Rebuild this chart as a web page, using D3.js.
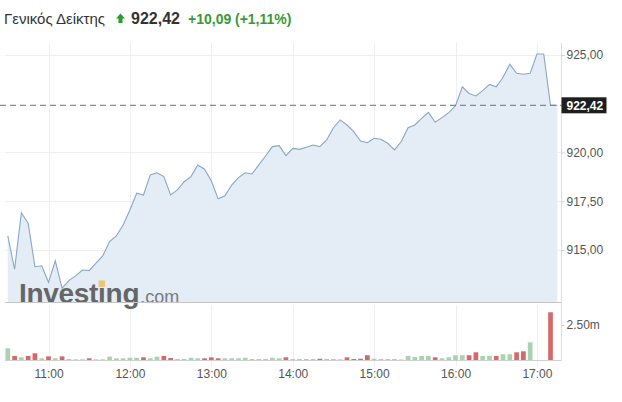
<!DOCTYPE html>
<html><head><meta charset="utf-8">
<script src="https://cdn.jsdelivr.net/npm/d3@7"></script>
<style>
body{margin:0;background:#fff;}
svg{display:block;font-family:"Liberation Sans",Arial,sans-serif;}
</style></head><body>
<svg id="chart" width="622" height="402"></svg>
<script>
// ---------- data ----------
const titleName = "Γενικός Δείκτης";
const lastValueText = "922,42";
const changeAbsText = "+10,09";
const changePctText = "(+1,11%)";
const sessionStart = "10:30";
const sessionEnd = "17:15";
const stepMinutes = 5;
const prevClose = 912.33;
const lastPrice = 922.42;
const prices = [
  915.72, 914.01, 916.91, 916.37, 914.14, 914.19, 913.34, 914.44, 913.04, 913.43,
  913.67, 913.97, 913.94, 914.32, 914.69, 915.43, 915.72, 916.28, 917.05, 917.91,
  917.82, 918.85, 918.96, 918.76, 917.82, 918.08, 918.50, 918.76, 919.36, 919.14,
  918.55, 917.62, 917.78, 918.33, 918.71, 918.96, 918.90, 919.36, 919.82, 920.30,
  920.35, 919.84, 920.21, 920.16, 920.27, 920.38, 920.30, 920.64, 921.27, 921.67,
  921.41, 921.07, 920.59, 920.50, 920.73, 920.68, 920.47, 920.13, 920.56, 921.27,
  921.41, 921.75, 922.06, 921.55, 921.79, 922.04, 922.40, 923.37, 923.03, 922.90,
  923.17, 923.49, 923.37, 923.86, 924.52, 924.06, 924.01, 924.06, 925.05, 925.05,
  922.42, 922.42
];
const volumes = [ // millions
  0.84, 0.29, 0.19, 0.29, 0.48, 0.12, 0.26, 0.12, 0.26, 0.07,
  0.05, 0.05, 0.12, 0.05, 0.05, 0.24, 0.12, 0.12, 0.16, 0.16,
  0.19, 0.12, 0.24, 0.29, 0.14, 0.07, 0.07, 0.16, 0.12, 0.12,
  0.19, 0.12, 0.12, 0.12, 0.12, 0.16, 0.07, 0.07, 0.07, 0.16,
  0.12, 0.19, 0.07, 0.07, 0.07, 0.07, 0.09, 0.07, 0.07, 0.05,
  0.19, 0.07, 0.09, 0.34, 0.09, 0.07, 0.07, 0.07, 0.04, 0.29,
  0.21, 0.29, 0.29, 0.19, 0.12, 0.19, 0.34, 0.34, 0.34, 0.55,
  0.29, 0.29, 0.29, 0.41, 0.41, 0.55, 0.62, 1.26, 0, 0,
  3.41, 0
];
const volumeDir = [
  "u","d","u","d","d","u","d","u","d","u",
  "u","u","d","u","u","u","u","u","u","u",
  "d","u","u","d","d","u","u","u","u","d",
  "d","d","u","u","u","u","u","u","u","u",
  "u","d","u","u","u","u","d","u","u","u",
  "d","d","d","d","u","u","u","u","u","u",
  "u","u","u","d","u","u","u","u","d","d",
  "u","u","d","u","u","d","d","u","u","u",
  "d","d"
];
const priceTicks = [915, 917.5, 920, 925];
const volumeTicks = [2.5];
const timeTicks = ["11:00", "12:00", "13:00", "14:00", "15:00", "16:00", "17:00"];

// ---------- setup ----------
const svg = d3.select("#chart");
const parseT = d3.timeParse("%Y-%m-%d %H:%M");
const T = s => parseT("2020-01-06 " + s);
const times = d3.timeMinute.every(stepMinutes).range(T(sessionStart), d3.timeMinute.offset(T(sessionEnd), 1)).slice(0, prices.length);
const data = prices.map((p, i) => ({t: times[i], p, v: volumes[i], dir: volumeDir[i]}));

const locale = d3.formatLocale({decimal: ",", thousands: ".", grouping: [3], currency: ["", "€"]});
const fmt2 = locale.format(".2f");

const plotL = 5, plotR = 561.5, plotTop = 43, plotBot = 302;
const volTop = 305, volBase = 360;

const x = d3.scaleTime().domain([T(sessionStart), T(sessionEnd)]).range([7.8, 557.3]);
const y = d3.scaleLinear().domain([prevClose, 925]).range([plotBot, 55]);
const yv = d3.scaleLinear().domain([0, 2.5]).range([volBase, 325]);

// ---------- title ----------
const title = svg.append("g");
title.append("text").attr("x", 4).attr("y", 24).attr("font-size", 15).attr("fill", "#333").text(titleName);
title.append("path").attr("d", "M120.5,13.5 L125,18.5 L122.5,18.5 L122.5,23 L118.5,23 L118.5,18.5 L116,18.5 Z").attr("fill", "#2e9a2e");
title.append("text").attr("x", 131).attr("y", 24).attr("font-size", 16).attr("font-weight", "bold").attr("fill", "#333").text(lastValueText);
title.append("text").attr("x", 188).attr("y", 24).attr("font-size", 14).attr("font-weight", "bold").attr("fill", "#3a9a32").text(changeAbsText);
title.append("text").attr("x", 235).attr("y", 24).attr("font-size", 14).attr("font-weight", "bold").attr("fill", "#3a9a32").text(changePctText);

// ---------- grid ----------
const grid = svg.append("g");
grid.selectAll("line.hg").data(priceTicks).join("line")
  .attr("x1", plotL).attr("x2", plotR).attr("y1", d => Math.round(y(d)) + 0.5).attr("y2", d => Math.round(y(d)) + 0.5)
  .attr("stroke", "#eeeeee");
grid.selectAll("line.vg").data(timeTicks).join("line")
  .attr("x1", d => Math.round(x(T(d))) + 0.5).attr("x2", d => Math.round(x(T(d))) + 0.5)
  .attr("y1", plotTop).attr("y2", plotBot).attr("stroke", "#eeeeee");
grid.selectAll("line.vg2").data(timeTicks).join("line")
  .attr("x1", d => Math.round(x(T(d))) + 0.5).attr("x2", d => Math.round(x(T(d))) + 0.5)
  .attr("y1", volTop).attr("y2", volBase + 6).attr("stroke", "#eeeeee");

// ---------- area + line ----------
const area = d3.area().x(d => x(d.t)).y0(plotBot).y1(d => y(d.p));
const line = d3.line().x(d => x(d.t)).y(d => y(d.p));
svg.append("path").datum(data).attr("d", area).attr("fill", "#e4ecf5");
svg.append("path").datum(data).attr("d", line).attr("fill", "none").attr("stroke", "#86a8c6").attr("stroke-width", 1.1);

// ---------- logo ----------
const logo = svg.append("g").attr("opacity", 0.92);
const logoText = logo.append("text").attr("x", 19).attr("y", 303).attr("font-size", 28).attr("font-weight", "bold")
  .attr("letter-spacing", -0.3).attr("fill", "#5b5b5b").text("Investing");
const lw = logoText.node().getComputedTextLength();
logo.append("text").attr("x", 19 + lw + 1).attr("y", 303).attr("font-size", 18).attr("fill", "#727272").text(".com");
try {
  const ip = logoText.node().getStartPositionOfChar(6);
  const iw = logoText.node().getSubStringLength(6, 1);
  logo.append("rect").attr("x", ip.x + iw / 2 - 3.2).attr("y", 280.5).attr("width", 6.4).attr("height", 6.4).attr("fill", "#f1c26a");
} catch (e) {}

// ---------- frame lines ----------
svg.append("line").attr("x1", plotL).attr("x2", plotR).attr("y1", plotBot + 0.5).attr("y2", plotBot + 0.5).attr("stroke", "#c4c4c4");
svg.append("line").attr("x1", plotR).attr("x2", plotR).attr("y1", plotTop).attr("y2", plotBot).attr("stroke", "#dddddd");
svg.append("line").attr("x1", plotR).attr("x2", plotR).attr("y1", plotBot + 1).attr("y2", volBase).attr("stroke", "#dddddd");
svg.append("line").attr("x1", plotL).attr("x2", plotR).attr("y1", volBase + 0.5).attr("y2", volBase + 0.5).attr("stroke", "#d0d0d0");

// ---------- last price dashed line ----------
svg.append("line").attr("x1", 0).attr("x2", plotR).attr("y1", y(lastPrice)).attr("y2", y(lastPrice))
  .attr("stroke", "#6e6e6e").attr("stroke-dasharray", "6,4");

// ---------- right price axis ----------
const yAxis = d3.axisRight(y).tickValues(priceTicks).tickSize(3).tickPadding(2).tickFormat(fmt2);
const ya = svg.append("g").attr("transform", `translate(${plotR},0)`).call(yAxis);
ya.select(".domain").remove();
ya.selectAll("line").attr("stroke", "#cccccc");
ya.selectAll("text").attr("font-size", 12).attr("fill", "#555").attr("font-family", "Liberation Sans, Arial, sans-serif");

// last price label
const lp = svg.append("g").attr("transform", `translate(${plotR},${y(lastPrice)})`);
lp.append("rect").attr("x", 0).attr("y", -8).attr("width", 45).attr("height", 16).attr("fill", "#1e1e1e");
lp.append("text").attr("x", 5).attr("y", 4.5).attr("font-size", 12).attr("font-weight", "bold").attr("fill", "#fff").text(fmt2(lastPrice));

// ---------- volume ----------
const bw = 4.7;
svg.append("g").selectAll("rect").data(data.filter(d => d.v > 0)).join("rect")
  .attr("x", d => x(d.t) - bw / 2).attr("width", bw)
  .attr("y", d => yv(d.v)).attr("height", d => volBase - yv(d.v))
  .attr("fill", d => d.dir === "u" ? "#a6d4ae" : "#d86767");

const vAxis = d3.axisRight(yv).tickValues(volumeTicks).tickSize(3).tickPadding(2).tickFormat(d => d3.format(".2f")(d) + "m");
const va = svg.append("g").attr("transform", `translate(${plotR},0)`).call(vAxis);
va.select(".domain").remove();
va.selectAll("line").attr("stroke", "#cccccc");
va.selectAll("text").attr("font-size", 12).attr("fill", "#555").attr("font-family", "Liberation Sans, Arial, sans-serif");

// ---------- time axis ----------
const xAxis = d3.axisBottom(x).tickValues(timeTicks.map(T)).tickSize(0).tickPadding(9).tickFormat(d3.timeFormat("%H:%M"));
const xa = svg.append("g").attr("transform", `translate(0,${volBase})`).call(xAxis);
xa.select(".domain").remove();
xa.selectAll("text").attr("font-size", 12).attr("fill", "#555").attr("font-family", "Liberation Sans, Arial, sans-serif");
</script>
</body></html>
